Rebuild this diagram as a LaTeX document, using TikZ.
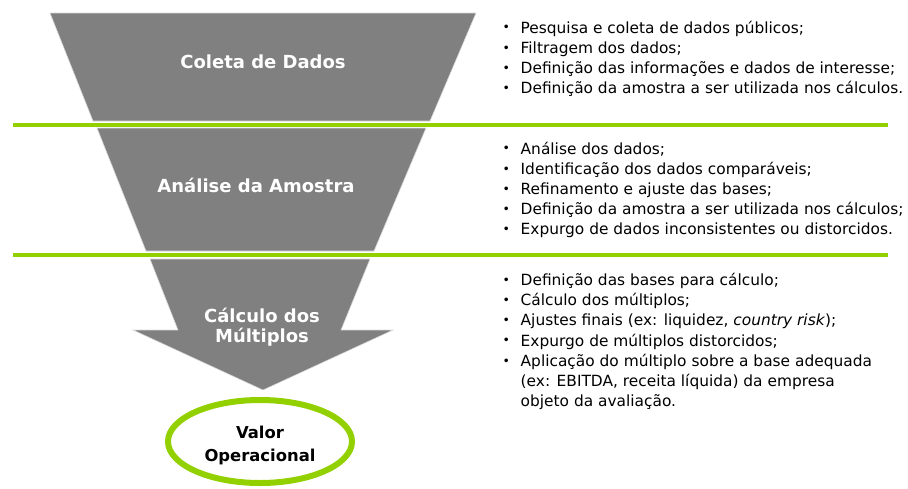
\documentclass[tikz,border=0pt]{standalone}
\usepackage{fontspec}
\setmainfont{DejaVu Sans}
\usetikzlibrary{shapes.geometric}

\definecolor{funnelgray}{RGB}{128,128,128}
\definecolor{limegreen}{RGB}{146,208,0}

\newcommand{\bul}{\makebox[18pt][l]{\raisebox{1.2pt}{\fontsize{12.5}{12}\selectfont\textbullet}}}
\newcommand{\cnt}{\hspace*{18pt}}

\begin{document}
\begin{tikzpicture}[x=1pt, y=-1pt,
    stage/.style={fill=funnelgray, draw=white!85!black, line width=0.6pt},
    divider/.style={draw=limegreen, line width=3.2pt},
    stagelabel/.style={text=white, font=\fontsize{18}{20}\selectfont\bfseries, align=center},
    bullets/.style={anchor=north west, inner sep=0pt, align=left, font=\fontsize{15.4}{20.2}\selectfont}]
    \useasboundingbox (0,0) rectangle (908,488);

    % funnel
    \draw[stage] (50,13) -- (476,13) -- (430,121) -- (93,121) -- cycle;
    \draw[stage] (97,128) -- (426,128) -- (374,251) -- (146,251) -- cycle;
    \draw[stage] (150,259) -- (370,259) -- (341,330) -- (393,330) -- (263,390)
        -- (133,330) -- (178,330) -- cycle;

    \draw[divider] (13,125) -- (888,125);
    \draw[divider] (13,255) -- (888,255);

    \node[stagelabel] (coleta) at (263,62) {Coleta de Dados};
    \node[stagelabel] (analise) at (256,185) {Análise da Amostra};
    \node[stagelabel] (calculo) at (262,327.5) {Cálculo dos\\Múltiplos};

    \node[ellipse, draw=limegreen, line width=6pt, fill=white, minimum width=184pt,
        minimum height=83pt, inner sep=0pt] (valor) at (260,441.5) {};
    \node[align=center, font=\fontsize{16.4}{23}\selectfont\bfseries] (valortext)
        at (260,445) {Valor\\Operacional};

    % descriptions
    \node[bullets] (lista1) at (502.5,20.5) {\bul Pesquisa e coleta de dados públicos;\\
        \bul Filtragem dos dados;\\
        \bul Definição das informações e dados de interesse;\\
        \bul Definição da amostra a ser utilizada nos cálculos.};
    \node[bullets] (lista2) at (502.5,141.5) {\bul Análise dos dados;\\
        \bul Identificação dos dados comparáveis;\\
        \bul Refinamento e ajuste das bases;\\
        \bul Definição da amostra a ser utilizada nos cálculos;\\
        \bul Expurgo de dados inconsistentes ou distorcidos.};
    \node[bullets] (lista3) at (502.5,273) {\bul Definição das bases para cálculo;\\
        \bul Cálculo dos múltiplos;\\
        \bul Ajustes finais (ex: liquidez, \textit{country risk});\\
        \bul Expurgo de múltiplos distorcidos;\\
        \bul Aplicação do múltiplo sobre a base adequada\\
        \cnt (ex: EBITDA, receita líquida) da empresa\\
        \cnt objeto da avaliação.};
\end{tikzpicture}
\end{document}
